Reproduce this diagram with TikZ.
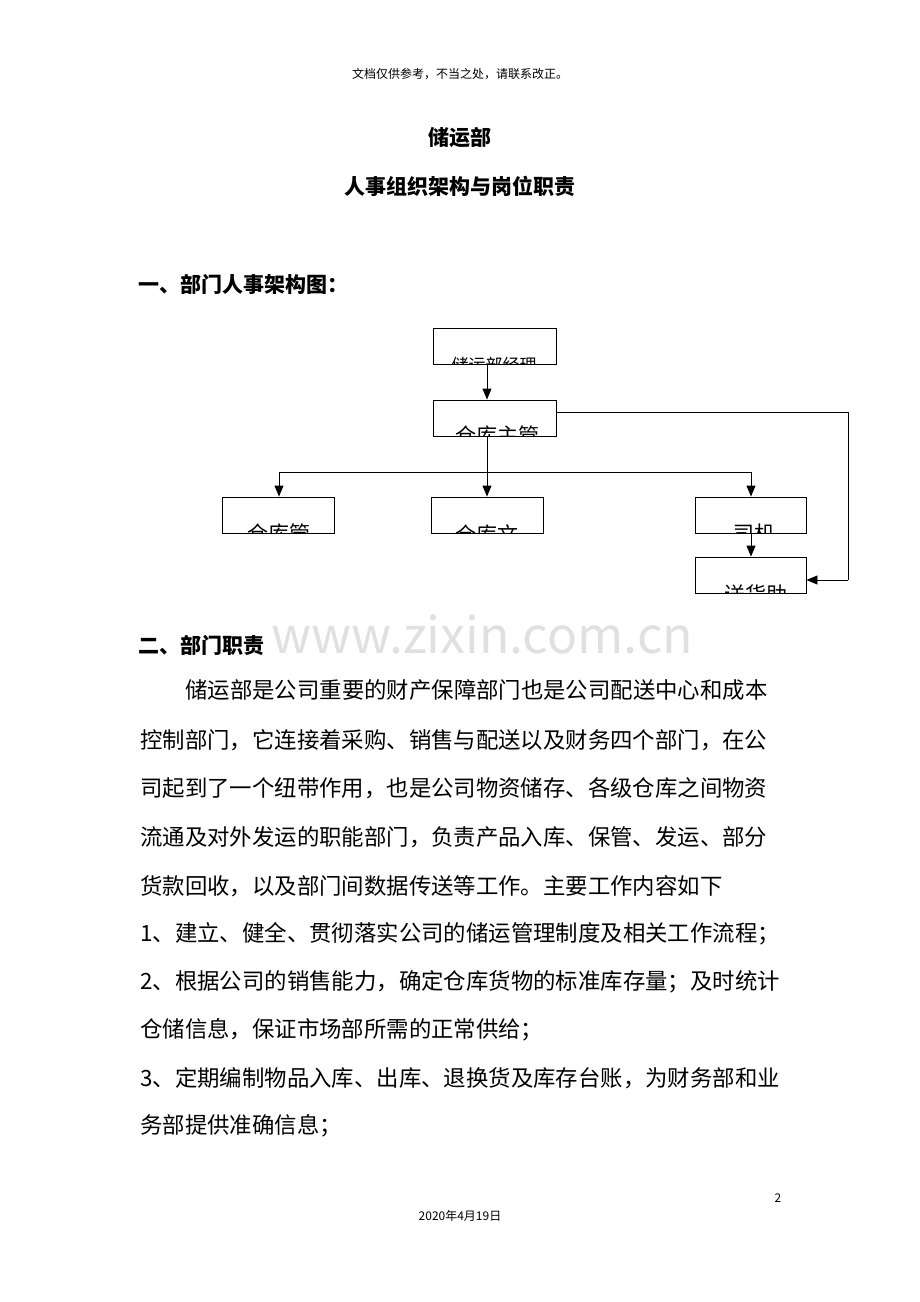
\documentclass[tikz,border=0pt]{standalone}
\usepackage{fontspec}
\setmainfont{Noto Sans CJK SC}
\usetikzlibrary{arrows.meta}
\begin{document}
\begin{tikzpicture}[x=1pt,y=-1pt,
  box/.style={draw,line width=0.9pt},
  arr/.style={line width=0.9pt,-{Triangle[length=11pt,width=9pt]}},
  ln/.style={line width=0.9pt},
  body/.style={anchor=west,inner sep=0,font=\fontsize{22.4}{22}\selectfont},
  cut/.style={inner sep=0,font=\fontsize{21}{21}\selectfont}]
\useasboundingbox (0,0) rectangle (920,1302);
\node[inner sep=0,font=\fontsize{12}{12}\selectfont] (hd) at (460,74) {文档仅供参考，不当之处，请联系改正。};
\node[inner sep=0,font=\bfseries\fontsize{21}{21}\selectfont] (t1) at (460,138) {储运部};
\node[inner sep=0,font=\bfseries\fontsize{21}{21}\selectfont] (t2) at (460,186) {人事组织架构与岗位职责};
\node[body,font=\bfseries\fontsize{21}{21}\selectfont] (s1) at (138,284) {一、部门人事架构图：};
\node[box,minimum width=123,minimum height=36,inner sep=0] (a) at (494.5,346) {};
\node[box,minimum width=123,minimum height=36,inner sep=0] (b) at (494.5,418) {};
\node[box,minimum width=112,minimum height=36,inner sep=0] (c) at (278,515) {};
\node[box,minimum width=112,minimum height=36,inner sep=0] (d) at (487,515) {};
\node[box,minimum width=111,minimum height=36,inner sep=0] (e) at (750.5,515) {};
\node[box,minimum width=111,minimum height=36,inner sep=0] (f) at (750.5,575) {};
\begin{scope}\clip (433,328) rectangle (556,364);
\node[cut,font=\fontsize{17}{17}\selectfont] (ta) at (494,365) {储运部经理};\end{scope}
\begin{scope}\clip (433,400) rectangle (556,436);
\node[cut] (tb) at (497,436) {仓库主管};\end{scope}
\begin{scope}\clip (222,497) rectangle (334,533);
\node[cut] (tc) at (279,534) {仓库管};\end{scope}
\begin{scope}\clip (431,497) rectangle (543,533);
\node[cut] (td) at (487,534) {仓库文};\end{scope}
\begin{scope}\clip (695,497) rectangle (806,533);
\node[cut] (te) at (754,534) {司机};\end{scope}
\begin{scope}\clip (695,557) rectangle (806,593);
\node[cut] (tf) at (756,594) {送货助};\end{scope}
\coordinate (j) at (487,472);
\coordinate (jl) at (279,472);
\coordinate (jr) at (751,472);
\coordinate (rr) at (848,412);
\coordinate (rb) at (848,580);
\draw[arr] (a.south -| 487,0) -- (b.north -| 487,0);
\draw[ln] (b.south -| 487,0) -- (j);
\draw[ln] (jl) -- (jr);
\draw[arr] (jl) -- (c.north -| jl);
\draw[arr] (j) -- (d.north);
\draw[arr] (jr) -- (e.north -| jr);
\draw[arr] (e.south -| jr) -- (f.north -| jr);
\draw[ln] (b.east |- rr) -- (rr) -- (rb);
\draw[arr] (rb) -- (f.east |- rb);
\node[inner sep=0,text=black!12,font=\fontsize{50}{50}\selectfont] (wm) at (482,634) {www.zixin.com.cn};
\node[body,font=\bfseries\fontsize{21}{21}\selectfont] (s2) at (138,645) {二、部门职责};
\node[body] (l1) at (185,690) {储运部是公司重要的财产保障部门也是公司配送中心和成本};
\node[body] (l2) at (140,740) {控制部门，它连接着采购、销售与配送以及财务四个部门，在公};
\node[body] (l3) at (140,788) {司起到了一个纽带作用，也是公司物资储存、各级仓库之间物资};
\node[body] (l4) at (140,837) {流通及对外发运的职能部门，负责产品入库、保管、发运、部分};
\node[body] (l5) at (140,886) {货款回收，以及部门间数据传送等工作。主要工作内容如下};
\node[body] (l6) at (140,934) {1、建立、健全、贯彻落实公司的储运管理制度及相关工作流程；};
\node[body] (l7) at (140,982) {2、根据公司的销售能力，确定仓库货物的标准库存量；及时统计};
\node[body] (l8) at (140,1030) {仓储信息，保证市场部所需的正常供给；};
\node[body] (l9) at (140,1078) {3、定期编制物品入库、出库、退换货及库存台账，为财务部和业};
\node[body] (l10) at (140,1126) {务部提供准确信息；};
\node[inner sep=0,font=\fontsize{12}{12}\selectfont] (pg) at (778,1198) {2};
\node[inner sep=0,font=\fontsize{12}{12}\selectfont] (dt) at (460,1216) {2020年4月19日};
\end{tikzpicture}
\end{document}
